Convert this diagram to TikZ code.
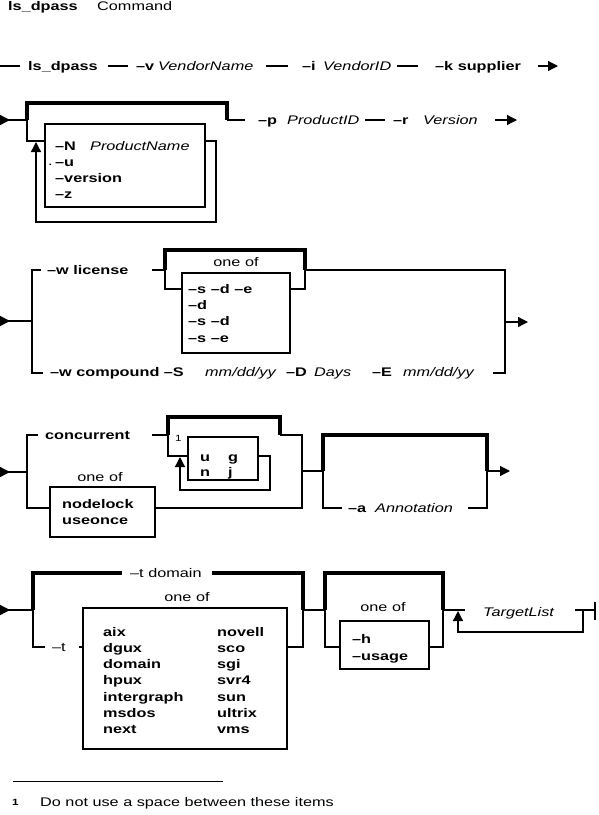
\documentclass[tikz,border=0pt]{standalone}
\usepackage{fontspec}
\setmainfont{Liberation Sans}[FakeStretch=1.3]
\usepackage{tikz}
\usetikzlibrary{arrows.meta}

\tikzset{
  rail/.style={line width=1.3pt},
  railthick/.style={line width=3.2pt},
  railend/.style={rail, -{Triangle[length=10pt,width=10pt]}},
  railstart/.style={rail, {Triangle[reversed,length=10pt,width=10pt]}-},
  optbox/.style={draw, line width=1.3pt},
  kw/.style={font=\fontsize{12.5pt}{14pt}\selectfont\bfseries, anchor=west, inner sep=0pt, text height=8pt, text depth=0pt},
  var/.style={kw, font=\fontsize{12.5pt}{14pt}\selectfont\itshape},
  txt/.style={kw, font=\fontsize{12.5pt}{14pt}\selectfont},
}

\begin{document}
\begin{tikzpicture}[x=1pt, y=-1pt]%
\useasboundingbox (0,0) rectangle (598,815);%
% heading
\node[kw] (title) at (8,6) {ls\_dpass};%
\node[txt] (cmdword) at (97,6) {Command};%
% first line
\draw[rail] (0,66) -- (20,66);%
\node[kw] (lsdpass) at (28,66) {ls\_dpass};%
\draw[rail] (108,66) -- (128,66);%
\node[kw] (vflag) at (136,66) {--v};%
\node[var] (vendorname) at (158,66) {VendorName};%
\draw[rail] (266,66) -- (288,66);%
\node[kw] (iflag) at (302,66) {--i};%
\node[var] (vendorid) at (323,66) {VendorID};%
\draw[rail] (397,66) -- (418,66);%
\node[kw] (ksupplier) at (435,66) {--k supplier};%
\draw[railend] (538,66) -- (558,66);%
% second line, repeatable options
\draw[railstart] (0,120) -- (27,120);%
\draw[railthick] (27,120) -- (27,103) -- (227,103) -- (227,120);%
\draw[rail] (27,120) -- (27,141) -- (45,141);%
\draw[optbox] (45,124) rectangle (205,207);%
\draw[railend] (205,141) -- (216,141) -- (216,222) -- (36,222) -- (36,142);%
\node[kw] (nflag) at (55,146) {--N};%
\node[var] (productname) at (90,146) {ProductName};%
\node[txt] (dot) at (48,161) {.};%
\node[kw] (uflag) at (55,162) {--u};%
\node[kw] (versionflag) at (55,178) {--version};%
\node[kw] (zflag) at (55,194) {--z};%
\draw[rail] (227,120) -- (245,120);%
\node[kw] (pflag) at (258,120) {--p};%
\node[var] (productid) at (287,120) {ProductID};%
\draw[rail] (365,120) -- (385,120);%
\node[kw] (rflag) at (393,120) {--r};%
\node[var] (version) at (423,120) {Version};%
\draw[railend] (495,120) -- (517,120);%
% third line, license type
\draw[railstart] (0,321) -- (32,321);%
\draw[rail] (41,270) -- (32,270) -- (32,373) -- (43,373);%
\node[kw] (wlicense) at (47,270) {--w license};%
\draw[rail] (152,270) -- (165,270);%
\draw[railthick] (165,270) -- (165,250) -- (305,250) -- (305,270);%
\draw[rail] (165,270) -- (165,289) -- (182,289);%
\node[txt, anchor=center] (oneofa) at (236,262) {one of};%
\draw[optbox] (182,273) rectangle (290,353);%
\node[kw] (sde) at (188,289) {--s --d --e};%
\node[kw] (donly) at (188,305) {--d};%
\node[kw] (sd) at (188,321) {--s --d};%
\node[kw] (se) at (188,338) {--s --e};%
\draw[rail] (290,289) -- (305,289) -- (305,270) -- (505,270) -- (505,373) -- (493,373);%
\draw[railend] (505,322) -- (528,322);%
\node[kw] (wcompound) at (50,372) {--w compound --S};%
\node[var] (sdate) at (205,372) {mm/dd/yy};%
\node[kw] (dflag) at (286,372) {--D};%
\node[var] (days) at (314,372) {Days};%
\node[kw] (eflag) at (372,372) {--E};%
\node[var] (edate) at (403,372) {mm/dd/yy};%
% fourth line, license kind and annotation
\draw[railstart] (0,472) -- (27,472);%
\draw[rail] (38,435) -- (27,435) -- (27,508) -- (50,508);%
\node[kw] (concurrent) at (45,435) {concurrent};%
\draw[rail] (152,435) -- (168,435);%
\draw[railthick] (168,435) -- (168,417) -- (280,417) -- (280,435);%
\draw[rail] (168,435) -- (168,456) -- (188,456);%
\node[txt, font=\fontsize{9pt}{10pt}\selectfont] (fnref) at (175,437) {1};%
\draw[optbox] (188,437) rectangle (258,480);%
\node[kw] (ulic) at (200,457) {u};%
\node[kw] (glic) at (228,457) {g};%
\node[kw] (nlic) at (200,472) {n};%
\node[kw] (jlic) at (228,472) {j};%
\draw[railend] (258,456) -- (270,456) -- (270,490) -- (180,490) -- (180,457);%
\node[txt, anchor=center] (oneofb) at (100,477) {one of};%
\draw[optbox] (50,487) rectangle (155,537);%
\node[kw] (nodelock) at (62,504) {nodelock};%
\node[kw] (useonce) at (62,520) {useonce};%
\draw[rail] (155,508) -- (302,508) -- (302,435) -- (280,435);%
\draw[rail] (302,471) -- (323,471);%
\draw[railthick] (323,471) -- (323,435) -- (487,435) -- (487,471);%
\draw[rail] (323,471) -- (323,508) -- (342,508);%
\node[kw] (aflag) at (348,508) {--a};%
\node[var] (annotation) at (375,508) {Annotation};%
\draw[rail] (468,508) -- (487,508) -- (487,471);%
\draw[railend] (487,471) -- (510,471);%
% fifth line, target and help
\draw[railstart] (0,610) -- (33,610);%
\draw[railthick] (122,573) -- (33,573) -- (33,610);%
\node[txt] (tdomain) at (130,573) {--t domain};%
\draw[railthick] (212,573) -- (303,573) -- (303,610);%
\draw[rail] (33,610) -- (33,647) -- (45,647);%
\node[txt] (tflag) at (52,647) {--t};%
\draw[rail] (79,647) -- (83,647);%
\node[txt, anchor=center] (oneofc) at (187,597) {one of};%
\draw[optbox] (83,608) rectangle (287,749);%
\node[kw] (aix) at (103,632) {aix};%
\node[kw] (dgux) at (103,648) {dgux};%
\node[kw] (domain) at (103,664) {domain};%
\node[kw] (hpux) at (103,680) {hpux};%
\node[kw] (intergraph) at (103,697) {intergraph};%
\node[kw] (msdos) at (103,713) {msdos};%
\node[kw] (next) at (103,729) {next};%
\node[kw] (novell) at (217,632) {novell};%
\node[kw] (sco) at (217,648) {sco};%
\node[kw] (sgi) at (217,664) {sgi};%
\node[kw] (svr) at (217,680) {svr4};%
\node[kw] (sun) at (217,697) {sun};%
\node[kw] (ultrix) at (217,713) {ultrix};%
\node[kw] (vms) at (217,729) {vms};%
\draw[rail] (287,647) -- (303,647) -- (303,610) -- (325,610);%
\draw[railthick] (325,610) -- (325,573) -- (443,573) -- (443,610);%
\draw[rail] (325,610) -- (325,647) -- (340,647);%
\node[txt, anchor=center] (oneofd) at (383,607) {one of};%
\draw[optbox] (340,621) rectangle (429,669);%
\node[kw] (hflag) at (352,639) {--h};%
\node[kw] (usage) at (352,656) {--usage};%
\draw[rail] (429,647) -- (443,647) -- (443,610) -- (465,610);%
\node[var] (targetlist) at (483,612) {TargetList};%
\draw[rail] (575,610) -- (595,610);%
\draw[rail] (595,602) -- (595,620);%
\draw[railend] (583,610) -- (583,632) -- (458,632) -- (458,611);%
% footnote
\draw[line width=1pt] (13,781) -- (223,781);%
\node[kw, font=\fontsize{9pt}{10pt}\selectfont\bfseries] (fnmark) at (12,801) {1};%
\node[txt] (fntext) at (40,802) {Do not use a space between these items};%
\end{tikzpicture}
\end{document}
